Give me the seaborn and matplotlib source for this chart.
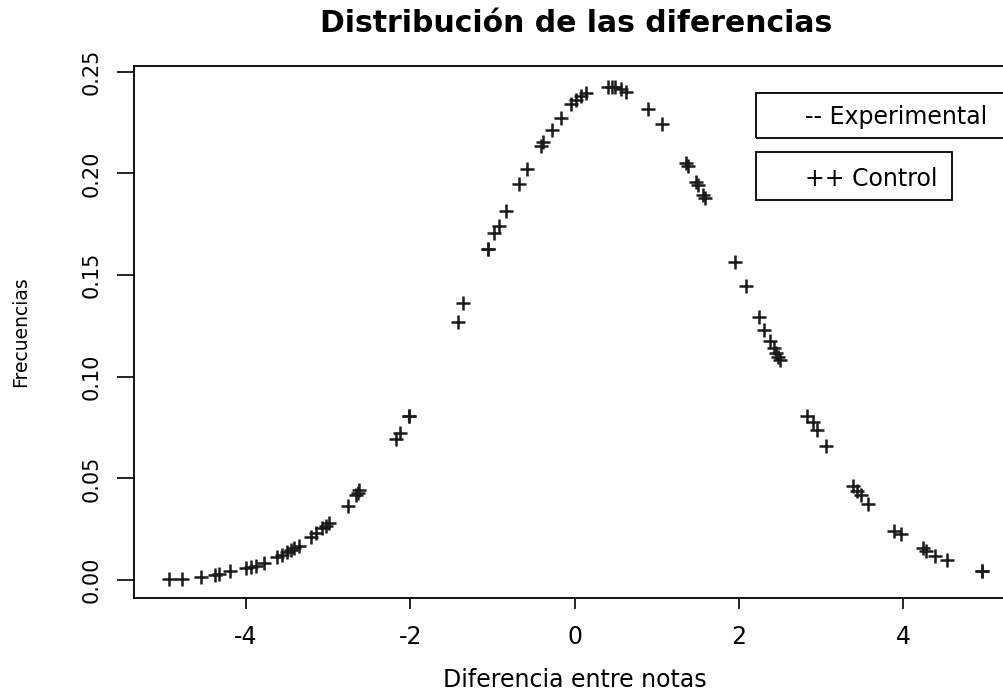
import matplotlib
matplotlib.use("Agg")
import matplotlib.pyplot as plt
from matplotlib.patches import Rectangle
import seaborn as sns
import pandas as pd

# ---- data ----
diferencia = [-4.93, -4.78, -4.55, -4.37, -4.33, -4.19, -4.00, -3.94, -3.88, -3.78,
              -3.62, -3.56, -3.50, -3.45, -3.41, -3.35, -3.21, -3.15, -3.07, -3.03,
              -2.99, -2.76, -2.66, -2.63, -2.62, -2.17, -2.13, -2.01, -2.01, -1.42,
              -1.36, -1.057, -1.057, -0.976, -0.92, -0.83, -0.68, -0.58, -0.41, -0.38,
              -0.28, -0.17, -0.04, 0.02, 0.08, 0.14, 0.41, 0.45, 0.49, 0.57,
              0.63, 0.89, 1.06, 1.36, 1.38, 1.48, 1.50, 1.56, 1.585, 1.95,
              2.09, 2.24, 2.31, 2.38, 2.42, 2.45, 2.48, 2.50, 2.83, 2.90,
              2.95, 3.06, 3.39, 3.44, 3.48, 3.57, 3.89, 3.97, 4.24, 4.27,
              4.39, 4.53, 4.95, 4.95]
frecuencia = [0.0005, 0.0005, 0.0016, 0.0025, 0.0028, 0.0046, 0.0058, 0.0062, 0.0069, 0.0082,
              0.0112, 0.0123, 0.0139, 0.0148, 0.0156, 0.0167, 0.0210, 0.0230, 0.0254, 0.0266,
              0.0279, 0.0364, 0.0418, 0.0429, 0.0443, 0.0694, 0.0722, 0.0808, 0.0808, 0.1271,
              0.1363, 0.1628, 0.1628, 0.1705, 0.1743, 0.1817, 0.1948, 0.2020, 0.2135, 0.2153,
              0.2213, 0.2271, 0.2340, 0.2361, 0.2381, 0.2394, 0.2424, 0.2424, 0.2424, 0.2415,
              0.2402, 0.2315, 0.2243, 0.2050, 0.2036, 0.1959, 0.1943, 0.1894, 0.1880, 0.1566,
              0.1446, 0.1295, 0.1230, 0.1177, 0.1140, 0.1115, 0.1095, 0.1082, 0.0807, 0.0779,
              0.0738, 0.0659, 0.0462, 0.0438, 0.0418, 0.0374, 0.0243, 0.0226, 0.0156, 0.0144,
              0.0118, 0.0098, 0.0046, 0.0046]
x_ticks = [-4, -2, 0, 2, 4]
y_ticks = [0.00, 0.05, 0.10, 0.15, 0.20, 0.25]
y_tick_labels = ["0.00", "0.05", "0.10", "0.15", "0.20", "0.25"]
titulo = "Distribución de las diferencias"
x_label = "Diferencia entre notas"
y_label = "Frecuencias"
legend_labels = ["-- Experimental", "++ Control"]

df = pd.DataFrame({"Diferencia": diferencia, "Frecuencia": frecuencia})

sns.set_theme(style="white")
plt.rcParams["font.family"] = ["DejaVu Sans"]

W, H = 1004, 692
fig = plt.figure(figsize=(W / 100, H / 100), dpi=100)
fig.patch.set_facecolor("white")

left, right, top, bottom = 134, 1018.5, 65.7, 597.7
ax = fig.add_axes([left / W, 1 - bottom / H, (right - left) / W, (bottom - top) / H])

sns.scatterplot(data=df, x="Diferencia", y="Frecuencia", marker="+", s=110,
                color="#1a1a1a", linewidth=1.8, ax=ax, legend=False)

ax.set_xlim(-5.36, 5.40)
ax.set_ylim(-0.0087, 0.2530)
ax.set_xticks(x_ticks)
ax.set_xticklabels([str(t) for t in x_ticks])
ax.set_yticks(y_ticks)
ax.set_yticklabels(y_tick_labels, rotation=90, va="center")

for s in ax.spines.values():
    s.set_visible(True)
    s.set_color("black")
    s.set_linewidth(1.3)

ax.tick_params(axis="x", direction="out", length=8, width=1.2, pad=12,
               labelsize=17, colors="black", bottom=True)
ax.tick_params(axis="y", direction="out", length=12, width=1.2, pad=11,
               labelsize=15, colors="black", left=True)

ax.set_xlabel(x_label, fontsize=17, color="black")
ax.xaxis.label.set_va("center")
ax.xaxis.set_label_coords((574.5 - left) / (right - left), (bottom - 680) / (bottom - top))
ax.set_ylabel(y_label, fontsize=13.5, color="black")
ax.yaxis.label.set_va("center")
ax.yaxis.label.set_ha("center")
ax.yaxis.set_label_coords((21 - left) / (right - left), (bottom - 332) / (bottom - top))

ax.set_title(titulo, fontsize=21.5, fontweight="bold", color="black", pad=24)

# legend boxes (R-style text-only legends)
fig.add_artist(Rectangle((756 / W, 1 - 138 / H), (1040 - 756) / W, 45 / H,
                         transform=fig.transFigure, fill=False, ec="black", lw=1.3))
fig.add_artist(Rectangle((756 / W, 1 - 200 / H), (952 - 756) / W, 48 / H,
                         transform=fig.transFigure, fill=False, ec="black", lw=1.3))
fig.text(805 / W, 1 - 124 / H, legend_labels[0], fontsize=17, va="baseline", ha="left", color="black")
fig.text(805 / W, 1 - 186.5 / H, legend_labels[1], fontsize=17, va="baseline", ha="left", color="black")

fig.savefig("out.png", dpi=100, facecolor="white")
